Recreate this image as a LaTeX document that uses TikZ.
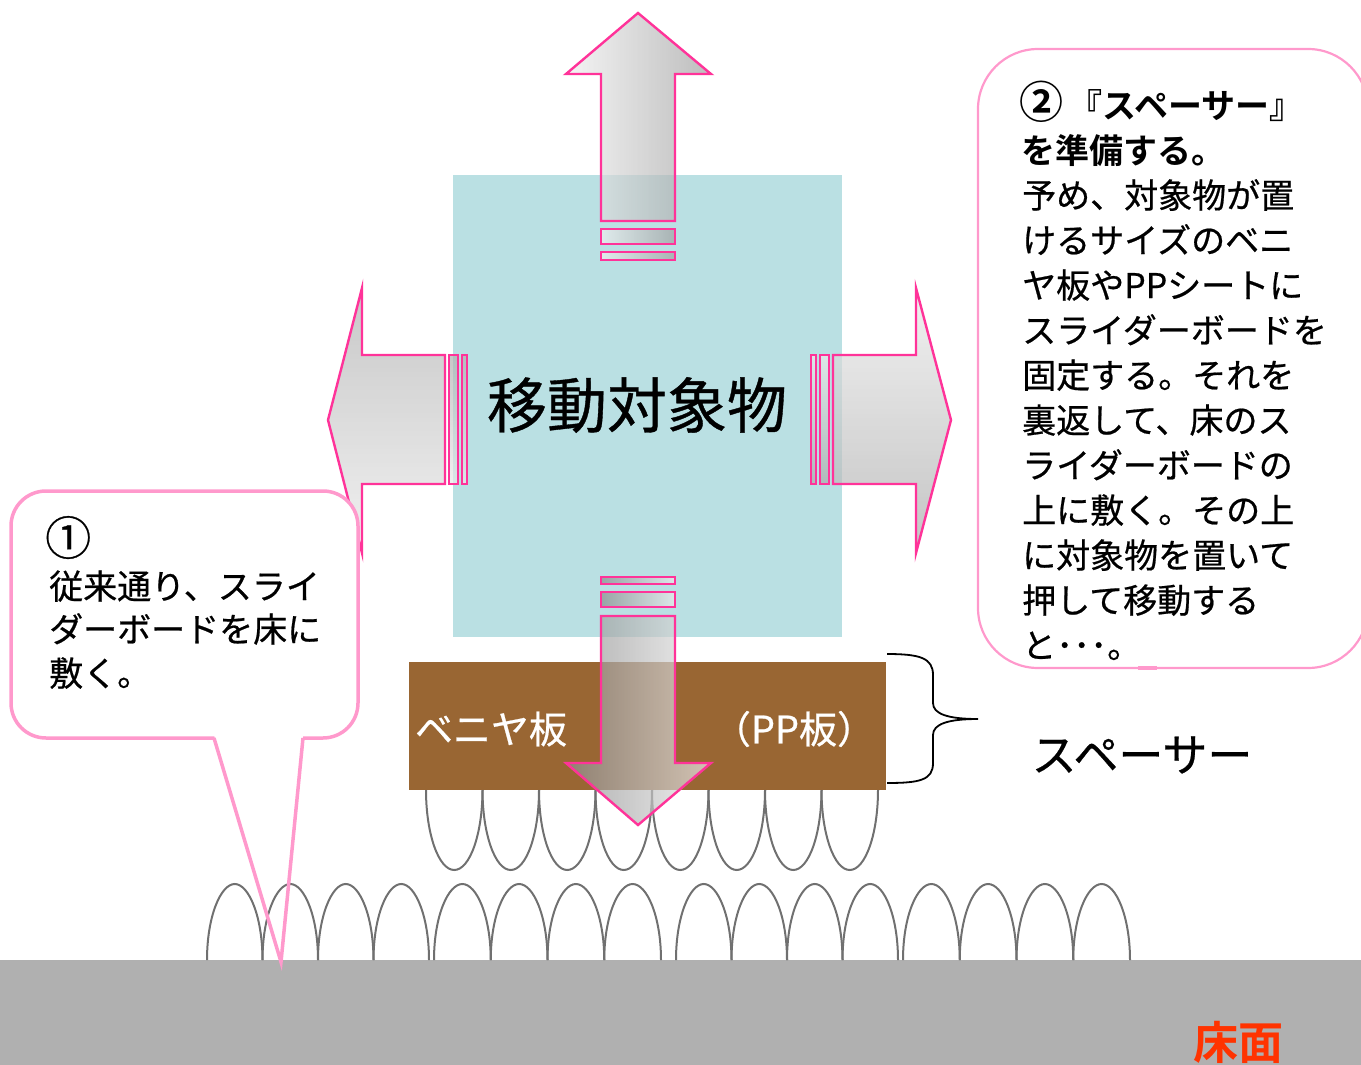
\documentclass[tikz,border=0pt]{standalone}
\usepackage{fontspec}
\newfontfamily\jp[FakeBold=0.6]{Noto Sans CJK JP}
\newfontfamily\jpb{Noto Sans CJK JP Bold}
\definecolor{arrowpink}{HTML}{FF3399}
\definecolor{calloutpink}{HTML}{FF99CC}
\definecolor{objblue}{HTML}{BAE0E3}
\definecolor{board}{HTML}{996633}
\definecolor{floorgray}{HTML}{B0B0B0}
\definecolor{loopgray}{HTML}{707070}
\definecolor{floortext}{HTML}{FF3300}
\begin{document}
\begin{tikzpicture}[x=1pt,y=-1pt,
  jtext/.style={inner sep=0pt, font=\jp},
  pushbody/.style={draw=arrowpink, line width=2.4pt, fill opacity=0.7},
  looppath/.style={draw=loopgray, line width=2pt},
  calloutline/.style={draw=calloutpink, line width=3.5pt},
  braceline/.style={draw=black, line width=1.8pt}]
\useasboundingbox (0,0) rectangle (1361,1065);

% floor
\fill[floorgray] (0,960) rectangle (1361,1065);
\node[jtext, font=\jpb\fontsize{45}{50}\selectfont, text=floortext] (floorlabel) at (1238,1042) {床面};

% object to move
\fill[objblue] (453,175) rectangle (842,637);
\node[jtext, font=\jp\fontsize{60}{66}\selectfont] (objlabel) at (637,405) {移動対象物};

% push arrow: up
\path[pushbody, left color=black!6, right color=black!37]
  (638,13) -- (711,74) -- (675,74) -- (675,221) -- (601,221) -- (601,74) -- (566,74) -- cycle;
\path[pushbody, left color=black!6, right color=black!37] (601,229) rectangle (675,244);
\path[pushbody, left color=black!6, right color=black!37] (601,252) rectangle (675,260);

% push arrow: left
\path[pushbody, top color=black!31, bottom color=black!8]
  (328,420) -- (362,288) -- (362,355) -- (445,355) -- (445,484) -- (362,484) -- (362,553) -- cycle;
\path[pushbody, top color=black!31, bottom color=black!8] (449,355) rectangle (458,484);
\path[pushbody, top color=black!31, bottom color=black!8] (462,355) rectangle (467,484);

% push arrow: right
\path[pushbody, top color=black!8, bottom color=black!33]
  (951,420) -- (916,553) -- (916,484) -- (833,484) -- (833,355) -- (916,355) -- (916,288) -- cycle;
\path[pushbody, top color=black!8, bottom color=black!33] (811,355) rectangle (816,484);
\path[pushbody, top color=black!8, bottom color=black!33] (820,355) rectangle (829,484);

% spacer board with slider loops underneath
\fill[board] (409,662) rectangle (886,790);
\foreach \k in {0,...,7}{
  \pgfmathsetmacro\a{426+56.5*\k}
  \pgfmathsetmacro\m{\a+28.25}
  \pgfmathsetmacro\b{\a+56.5}
  \draw[looppath] (\a,790) .. controls (\a,834) and ({\m-15.6},870) .. (\m,870)
                          .. controls ({\m+15.6},870) and (\b,834) .. (\b,790);
}
\node[jtext, font=\jp\fontsize{38}{42}\selectfont, text=white] (veneer) at (491,729) {ベニヤ板};
\node[jtext, font=\jp\fontsize{38}{42}\selectfont, text=white] (pplabel) at (794,729) {（PP板）};

% push arrow: down
\path[pushbody, left color=black!45, right color=black!8]
  (638,825) -- (711,763) -- (675,763) -- (675,616) -- (601,616) -- (601,763) -- (566,763) -- cycle;
\path[pushbody, left color=black!45, right color=black!8] (601,592) rectangle (675,607);
\path[pushbody, left color=black!45, right color=black!8] (601,577) rectangle (675,584);

% brace and its label
\draw[braceline] (887,654) .. controls (920,654) and (933,658) .. (933,675) -- (933,703)
  .. controls (933,714) and (948,719) .. (978,719)
  .. controls (948,719) and (933,724) .. (933,735) -- (933,763)
  .. controls (933,780) and (920,783) .. (887,783);
\node[jtext, font=\jp\fontsize{45}{50}\selectfont] (spacerlabel) at (1142,755) {スペーサー};

% callout 1 body
\path[calloutline, fill=white, rounded corners=35] (11,491) rectangle (358,738);
\fill[white] (214,735) -- (303,735) -- (281,962) -- cycle;

% slider loops standing on the floor
\foreach \g/\w in {207/55.5, 434/56.75, 676/55.5, 903/56.75}{
  \foreach \k in {0,...,3}{
    \pgfmathsetmacro\a{\g+\w*\k}
    \pgfmathsetmacro\m{\a+\w/2}
    \pgfmathsetmacro\b{\a+\w}
    \pgfmathsetmacro\c{0.5*\w/2}
    \draw[looppath] (\a,960) .. controls (\a,916) and ({\m-\c},884) .. (\m,884)
                            .. controls ({\m+\c},884) and (\b,916) .. (\b,960);
  }
}

% callout 1 pointer
\draw[calloutline, line join=miter] (214,738) -- (281,962) -- (303,738);

% callout 1 text
\begin{scope}[every node/.style={jtext, anchor=base west, font=\jp\fontsize{34}{40}\selectfont}]
  \node[font=\jp\fontsize{46}{50}\selectfont] (c1a) at (45,555) {①};
  \node (c1b) at (49,599) {従来通り、スライ};
  \node (c1c) at (49,642) {ダーボードを床に};
  \node (c1d) at (49,686) {敷く。};
\end{scope}

% callout 2
\path[draw=calloutpink, line width=2.2pt, fill=white, rounded corners=60] (978,49) rectangle (1368,668);
\draw[draw=calloutpink, line width=3.5pt] (1138,668) -- (1157,668);
\begin{scope}[every node/.style={jtext, anchor=base west, font=\jp\fontsize{34}{40}\selectfont}]
  \node[font=\jpb\fontsize{34}{40}\selectfont] (c2a) at (1019,118) {{\fontsize{44}{40}\selectfont ②}\,『スペーサー』};
  \node[font=\jpb\fontsize{34}{40}\selectfont] (c2b) at (1021,163) {を準備する。};
  \node (c2c) at (1022,208) {予め、対象物が置};
  \node (c2d) at (1022,253) {けるサイズのベニ};
  \node (c2e) at (1022,298) {ヤ板やPPシートに};
  \node (c2f) at (1022,343) {スライダーボードを};
  \node (c2g) at (1022,388) {固定する。それを};
  \node (c2h) at (1022,433) {裏返して、床のス};
  \node (c2i) at (1022,478) {ライダーボードの};
  \node (c2j) at (1022,523) {上に敷く。その上};
  \node (c2k) at (1022,568) {に対象物を置いて};
  \node (c2l) at (1022,613) {押して移動する};
  \node (c2m) at (1022,658) {と･･･。};
\end{scope}
\end{tikzpicture}
\end{document}
